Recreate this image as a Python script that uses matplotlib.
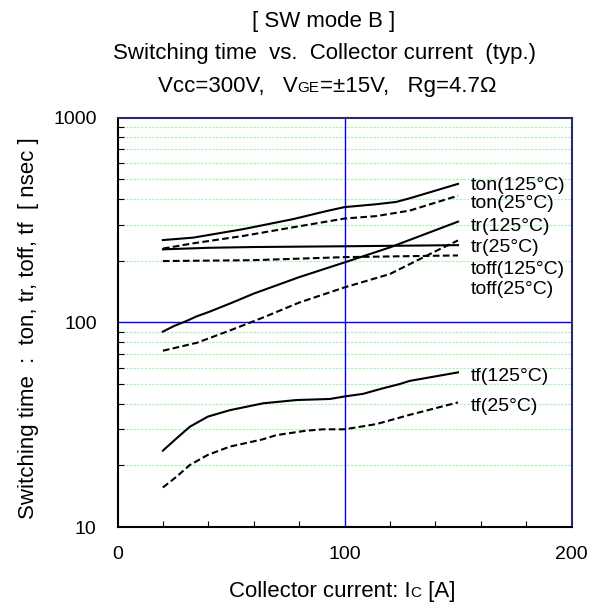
import numpy as np
import matplotlib
matplotlib.use("Agg")
import matplotlib.pyplot as plt
from matplotlib.ticker import FixedLocator, NullFormatter

plt.rcParams['font.family'] = ['Liberation Sans', 'DejaVu Sans']

# switching times [nsec] vs collector current [A]
ton125_ic = [20, 33.4, 55.4, 77.4, 92, 100, 114, 122.8, 128.7, 150]
ton125 = [252, 259, 285, 319, 349, 365, 377, 387, 403, 474]
ton25_ic = [20, 33.4, 55.4, 77.4, 100, 114, 128.7, 150]
ton25 = [229, 243, 264, 291, 321, 330, 351, 415]
tr125_ic = [20, 25, 30, 35, 40, 50, 60, 80, 100, 120, 150]
tr125 = [90, 96, 101, 107, 112, 124, 138, 166, 196, 232, 310]
tr25_ic = [20, 35, 50, 65, 80, 100, 120, 140, 150]
tr25 = [72.6, 79.4, 91.6, 106.4, 124.7, 148, 172, 222, 251]
toff125_ic = [20, 40, 60, 100, 150]
toff125 = [227, 231, 233, 235, 238]
toff25_ic = [20, 60, 100, 150]
toff25 = [199, 201, 208, 212]
tf125_ic = [20, 26, 31.9, 39.8, 49.5, 64.2, 78.9, 93.6, 100, 108.2, 117, 124.3, 128.7, 150]
tf125 = [23.6, 27.1, 30.9, 34.6, 37.2, 40.2, 41.7, 42.2, 43.4, 44.7, 47.6, 49.9, 51.7, 56.9]
tf25_ic = [20, 26, 31.9, 39.8, 49.5, 64, 70, 82.7, 90.5, 100, 114, 128.7, 150]
tf25 = [15.6, 17.6, 20.1, 22.5, 24.7, 26.8, 28.1, 29.5, 30.0, 30.0, 31.8, 35.3, 40.6]

curve_labels = ["ton(125°C)", "ton(25°C)", "tr(125°C)", "tr(25°C)",
                "toff(125°C)", "toff(25°C)", "tf(125°C)", "tf(25°C)"]
label_y = [468, 382, 292, 231, 180, 144, 54.1, 38.6]

fig = plt.figure(figsize=(5.98, 6.03), dpi=100)
ax = fig.add_axes([117.5 / 598, 76 / 603, 454 / 598, 409.5 / 603])

ax.set_yscale('log')
ax.set_xlim(0, 200)
ax.set_ylim(10, 1000)

# grid lines
minor_y = [v * d for d in (10, 100) for v in range(2, 10)]
for v in minor_y:
    ax.axhline(v, color='#b4f0b4', lw=0.9, ls=(0, (2, 1)), zorder=1)
ax.axhline(100, color='#0000ff', lw=1.0, zorder=1)
ax.axvline(100, color='#0000ff', lw=1.0, zorder=1)

dash = (0, (3.2, 1.6))
lw = 1.5
ax.plot(ton125_ic, ton125, color='black', lw=lw, zorder=3)
ax.plot(ton25_ic, ton25, color='black', lw=lw, ls=dash, zorder=3)
ax.plot(tr125_ic, tr125, color='black', lw=lw, zorder=3)
ax.plot(tr25_ic, tr25, color='black', lw=lw, ls=dash, zorder=3)
ax.plot(toff125_ic, toff125, color='black', lw=lw, zorder=3)
ax.plot(toff25_ic, toff25, color='black', lw=lw, ls=dash, zorder=3)
ax.plot(tf125_ic, tf125, color='black', lw=lw, zorder=3)
ax.plot(tf25_ic, tf25, color='black', lw=lw, ls=dash, zorder=3)

for lab, yv in zip(curve_labels, label_y):
    ax.text(155.6, yv, lab, fontsize=14, va='center', ha='left', zorder=4)

ax.xaxis.set_major_locator(FixedLocator([0, 100, 200]))
ax.xaxis.set_minor_locator(FixedLocator(list(range(20, 200, 20))))
ax.yaxis.set_major_locator(FixedLocator([10, 100, 1000]))
ax.yaxis.set_minor_locator(FixedLocator(minor_y))
ax.yaxis.set_minor_formatter(NullFormatter())
ax.set_yticklabels(['10', '100', '1000'])
ax.tick_params(which='both', direction='in', labelsize=14, length=4, width=0.8,
               top=False, right=False)
ax.tick_params(axis='x', which='major', length=0, pad=14)
ax.tick_params(axis='y', which='major', length=0, pad=15)

for s in ['left', 'bottom']:
    ax.spines[s].set_color('black')
    ax.spines[s].set_linewidth(1.5)
for s in ['top', 'right']:
    ax.spines[s].set_color('#2b2b6b')
    ax.spines[s].set_linewidth(1.5)

fig.text(29 / 598, 1 - 328 / 603, "Switching time  :  ton, tr, toff, tf  [ nsec ]",
         fontsize=16, rotation=90, ha='center', va='center')

fig.canvas.draw()
renderer = fig.canvas.get_renderer()


def pieces_centered(parts, xc, y):
    # draw text parts in a row, centered at xc (figure pixels), baseline at y
    objs = []
    for txt, size in parts:
        objs.append(fig.text(0, 1 - y / 603, txt, fontsize=size, ha='left', va='baseline'))
    widths = [o.get_window_extent(renderer).width for o in objs]
    x = xc - sum(widths) / 2
    for o, w in zip(objs, widths):
        o.set_x(x / 598)
        x += w


pieces_centered([("[ SW mode B ]", 16)], 324, 27)
pieces_centered([("Switching time  vs.  Collector current  (typ.)", 16)], 324, 59)
pieces_centered([("Vcc=300V,   V", 16), ("GE", 11), ("=±15V,   Rg=4.7Ω", 16)], 327, 92)
pieces_centered([("Collector current: I", 16), ("C", 11), (" [A]", 16)], 342, 597)

fig.savefig("out.png", dpi=100)
